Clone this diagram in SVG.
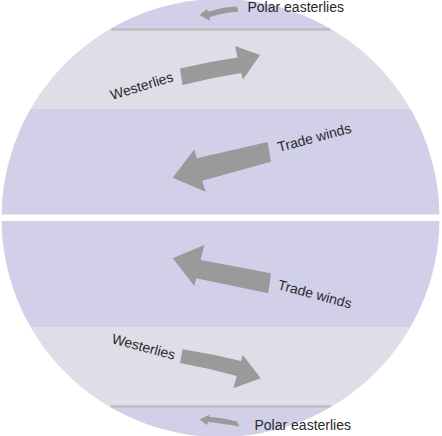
<svg xmlns="http://www.w3.org/2000/svg" width="442" height="436" viewBox="0 0 442 436">
<defs>
<clipPath id="globe"><circle cx="220.5" cy="218" r="219"/></clipPath>
<style>
.polar{fill:#d2cfe9}
.temp{fill:#dfdde8}
.trop{fill:#d2cfe9}
.front{fill:#bdbdbd}
.arrow{fill:#9a9a9a}
.lbl{font-family:"Liberation Sans",Arial,sans-serif;font-size:14px;fill:#2a2a2a}
</style>
</defs>
<rect width="442" height="436" fill="#ffffff"/>
<g id="globe-bands" clip-path="url(#globe)">
<rect class="polar" x="0" y="-5" width="442" height="34.5"/>
<rect class="temp" x="0" y="29.5" width="442" height="79.5"/>
<rect class="trop" x="0" y="109" width="442" height="105.5"/>
<rect class="trop" x="0" y="221" width="442" height="106"/>
<rect class="temp" x="0" y="327" width="442" height="79.5"/>
<rect class="polar" x="0" y="406.5" width="442" height="40"/>
<rect class="front" x="111" y="28.3" width="219.5" height="2.4"/>
<rect class="front" x="111" y="405.3" width="219.5" height="2.4"/>
</g>
<g id="connectors">
<path id="arrow-polar-n" class="arrow" d="M237,6.5 Q222,7 208.5,11.8 L206.7,9.3 L199.5,15 L210,20.7 L209.5,17.3 Q224,12.5 238.5,11.8 Z"/>
<path id="arrow-westerlies-n" class="arrow" d="M180,68.5 Q209,61.5 237.5,57.5 L235,46 L260,55 L243,79.5 L241,73 Q212,77.5 182.5,85 Z"/>
<path id="arrow-trade-n" class="arrow" d="M267.7,142 L196.7,158.3 L194.3,149.3 L172.7,177.7 L205.7,191.7 L202.3,180.7 L271,161.7 Z"/>
<path id="arrow-trade-s" class="arrow" d="M271,273.3 L200.6,260 L204.3,245 L172.7,258.3 L194.3,286 L196.2,278.3 L268.3,293.3 Z"/>
<path id="arrow-westerlies-s" class="arrow" d="M182.7,349.3 Q212,354 241,361 L242.7,355 L260.7,378.3 L233.3,388.3 L236.8,376 Q208,368 180,363 Z"/>
<path id="arrow-polar-s" class="arrow" d="M239.5,426.5 Q222,423.5 208,422 L207,425 L199.5,419.5 L210,414.5 L209,416.8 Q224,418 237,421.5 Z"/>
</g>
<g id="label-polar-n"><text class="lbl" x="247.5" y="11.5">Polar easterlies</text></g>
<g id="label-westerlies-n"><text class="lbl" transform="translate(112,100) rotate(-17)">Westerlies</text></g>
<g id="label-trade-n"><text class="lbl" transform="translate(279,152) rotate(-15)">Trade winds</text></g>
<g id="label-trade-s"><text class="lbl" transform="translate(277,289) rotate(15)">Trade winds</text></g>
<g id="label-westerlies-s"><text class="lbl" transform="translate(111,343) rotate(15)">Westerlies</text></g>
<g id="label-polar-s"><text class="lbl" x="254.5" y="429.5">Polar easterlies</text></g>
</svg>
